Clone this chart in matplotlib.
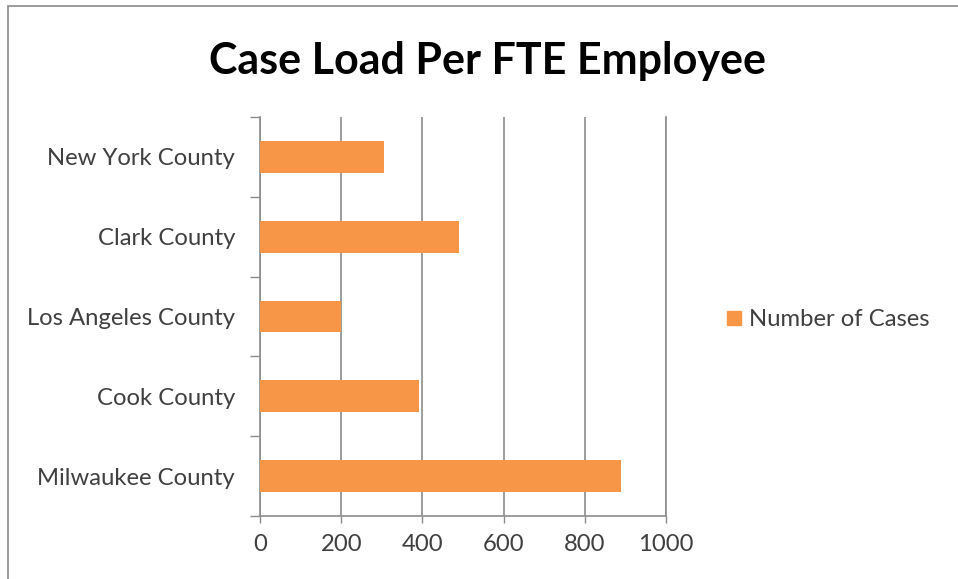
import matplotlib.pyplot as plt
from matplotlib.patches import Rectangle
from matplotlib.lines import Line2D
import numpy as np

# Case load data, listed top to bottom as shown
counties = ["New York County", "Clark County", "Los Angeles County",
            "Cook County", "Milwaukee County"]
cases = [305, 490, 200, 391, 889]
x_ticks = [0, 200, 400, 600, 800, 1000]
series_name = "Number of Cases"

BAR = "#F79646"
GRID = "#8C8C8C"
TEXT = "#404040"
FONT = ["Lato", "DejaVu Sans"]
LABEL_SIZE = 17.2

W, H = 958, 579
fig = plt.figure(figsize=(W / 100, H / 100), dpi=100)
fig.patch.set_facecolor("white")

# chart frame (left and top edges visible)
fig.add_artist(Rectangle((8 / W, -0.05), 1.2, 1 - 6 / H + 0.05,
                         transform=fig.transFigure, fill=False,
                         edgecolor="#8A8A8A", linewidth=1.2))

ax = fig.add_axes([260 / W, 1 - 516 / H, (666 - 260) / W, (516 - 117) / H])

y = np.arange(len(counties))[::-1]
ax.barh(y, cases, height=0.4, color=BAR, zorder=3, label=series_name)

ax.set_xlim(0, 1000)
ax.set_ylim(-0.5, len(counties) - 0.5)
ax.set_xticks(x_ticks)
ax.set_xticklabels([str(v) for v in x_ticks], fontsize=LABEL_SIZE,
                   color=TEXT, family=FONT)
ax.set_yticks(y)
ax.set_yticklabels(counties, fontsize=LABEL_SIZE, color=TEXT, family=FONT)
ax.set_yticks(np.arange(-0.5, len(counties)), minor=True)

ax.tick_params(axis="y", which="major", length=0, pad=18)
ax.tick_params(axis="y", which="minor", length=7, width=1, color=GRID)
ax.tick_params(axis="x", which="major", length=5, width=1, color=GRID,
               pad=8)

ax.grid(axis="x", color=GRID, linewidth=1.2, zorder=0)
ax.spines["top"].set_visible(False)
for side in ["left", "bottom", "right"]:
    ax.spines[side].set_color(GRID)
    ax.spines[side].set_linewidth(1.2)
ax.spines["right"].set_zorder(0)

fig.text(487 / W, 1 - 61 / H, "Case Load Per FTE Employee",
         ha="center", va="center", fontsize=31, fontweight="bold",
         color="black", family=FONT)

handle = Line2D([], [], marker="s", linestyle="none", markersize=9.5,
                markerfacecolor=BAR, markeredgecolor=BAR)
fig.legend([handle], [series_name], loc="center left",
           bbox_to_anchor=(701 / W, 1 - 320 / H), frameon=False,
           handletextpad=0.1, handlelength=1.0,
           prop={"family": FONT, "size": LABEL_SIZE}, labelcolor=TEXT)

fig.savefig("out.png", dpi=100, facecolor="white")
